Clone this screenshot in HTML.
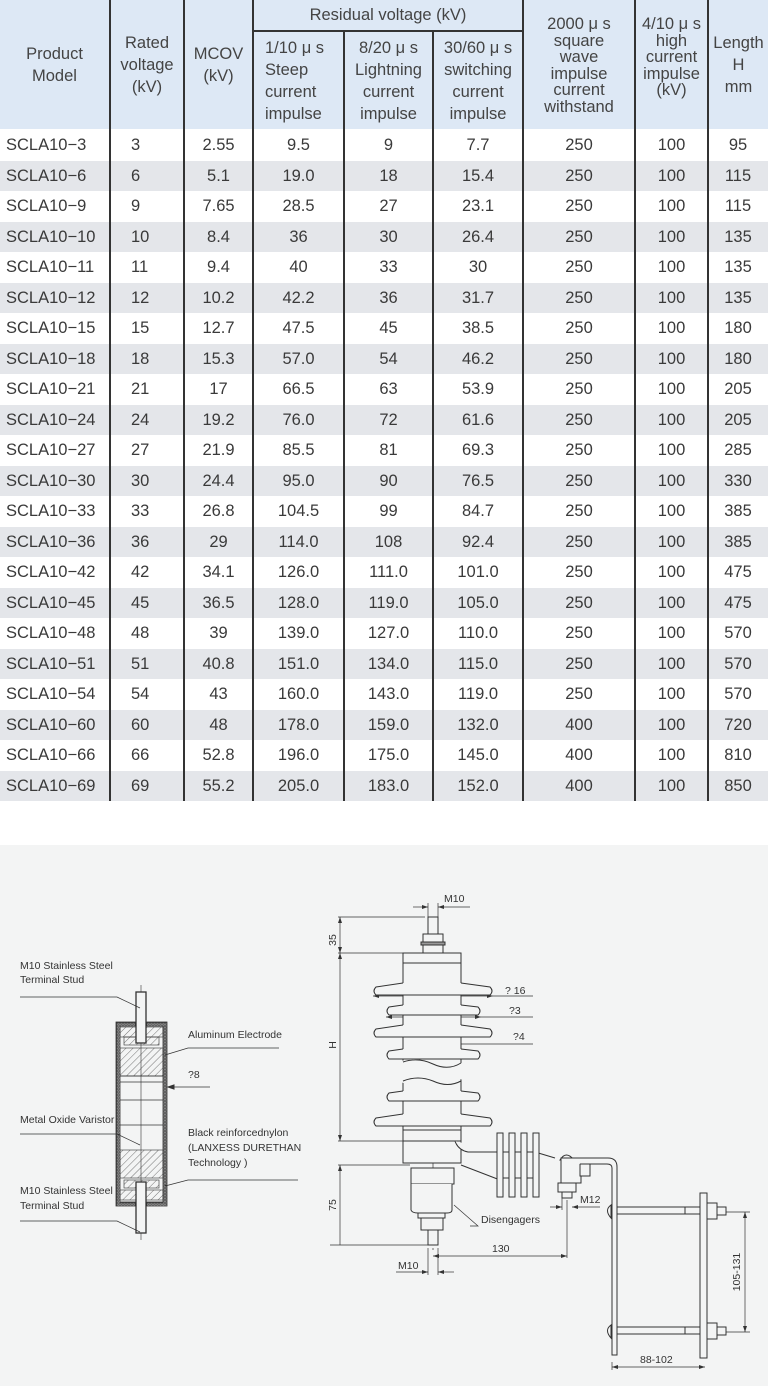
<!DOCTYPE html>
<html><head><meta charset="utf-8"><style>
*{margin:0;padding:0;box-sizing:border-box}
body{width:768px;height:1386px;background:#fff;font-family:"Liberation Sans",sans-serif;color:#333;position:relative;overflow:hidden}
.h{position:absolute;background:#dde8f5;font-size:16.5px;text-align:center;line-height:22px;display:flex;align-items:center;justify-content:center;color:#444}
.v{position:absolute;width:1.5px;background:#333;top:0;height:801px}
.g{position:absolute;left:0;width:768px;background:#e4e6ea}
td{color:#3a3a3a}
</style></head><body>
<div class="h" style="left:0;top:0;width:109px;height:129px">Product<br>Model</div>
<div class="h" style="left:111px;top:0;width:72px;height:129px">Rated<br>voltage<br>(kV)</div>
<div class="h" style="left:185px;top:0;width:67px;height:129px">MCOV<br>(kV)</div>
<div class="h" style="left:254px;top:0;width:268px;height:30px">Residual voltage (kV)</div>
<div style="position:absolute;left:253px;top:30px;width:270px;height:1.5px;background:#333"></div>
<div class="h" style="left:254px;top:32px;width:89px;height:97px;text-align:left;justify-content:flex-start;padding-left:11px">1/10 μ s<br>Steep<br>current<br>impulse</div>
<div class="h" style="left:345px;top:32px;width:87px;height:97px">8/20 μ s<br>Lightning<br>current<br>impulse</div>
<div class="h" style="left:434px;top:32px;width:88px;height:97px">30/60 μ s<br>switching<br>current<br>impulse</div>
<div class="h" style="left:524px;top:0;width:110px;height:129px;align-items:flex-start;padding-top:16px;line-height:16.5px">2000 μ s<br>square<br>wave<br>impulse<br>current<br>withstand</div>
<div class="h" style="left:636px;top:0;width:71px;height:129px;align-items:flex-start;padding-top:16px;line-height:16.5px">4/10 μ s<br>high<br>current<br>impulse<br>(kV)</div>
<div class="h" style="left:709px;top:0;width:59px;height:129px">Length<br>H<br>mm</div>
<div class="g" style="top:160.5px;height:30.5px"></div><div class="g" style="top:221.5px;height:30.5px"></div><div class="g" style="top:282.5px;height:30.5px"></div><div class="g" style="top:343.5px;height:30.5px"></div><div class="g" style="top:404.5px;height:30.5px"></div><div class="g" style="top:465.5px;height:30.5px"></div><div class="g" style="top:526.5px;height:30.5px"></div><div class="g" style="top:587.5px;height:30.5px"></div><div class="g" style="top:648.5px;height:30.5px"></div><div class="g" style="top:709.5px;height:30.5px"></div><div class="g" style="top:770.5px;height:30.5px"></div>
<div class="v" style="left:109px"></div><div class="v" style="left:183px"></div><div class="v" style="left:252px"></div><div class="v" style="left:343px;top:31px;height:770px"></div><div class="v" style="left:432px;top:31px;height:770px"></div><div class="v" style="left:522px"></div><div class="v" style="left:634px"></div><div class="v" style="left:707px"></div>
<div style="position:absolute;left:0;top:130px;width:768px;font-size:16.5px;line-height:30.5px">
<table style="border-collapse:collapse;width:768px;table-layout:fixed">
<colgroup><col style="width:110px"><col style="width:74px"><col style="width:69px"><col style="width:91px"><col style="width:89px"><col style="width:90px"><col style="width:112px"><col style="width:73px"><col style="width:60px"></colgroup>
<tbody style="text-align:center">
<tr><td style="text-align:left;padding-left:6px">SCLA10−3</td><td style="text-align:left;padding-left:21px">3</td><td>2.55</td><td>9.5</td><td>9</td><td>7.7</td><td>250</td><td>100</td><td>95</td></tr>
<tr><td style="text-align:left;padding-left:6px">SCLA10−6</td><td style="text-align:left;padding-left:21px">6</td><td>5.1</td><td>19.0</td><td>18</td><td>15.4</td><td>250</td><td>100</td><td>115</td></tr>
<tr><td style="text-align:left;padding-left:6px">SCLA10−9</td><td style="text-align:left;padding-left:21px">9</td><td>7.65</td><td>28.5</td><td>27</td><td>23.1</td><td>250</td><td>100</td><td>115</td></tr>
<tr><td style="text-align:left;padding-left:6px">SCLA10−10</td><td style="text-align:left;padding-left:21px">10</td><td>8.4</td><td>36</td><td>30</td><td>26.4</td><td>250</td><td>100</td><td>135</td></tr>
<tr><td style="text-align:left;padding-left:6px">SCLA10−11</td><td style="text-align:left;padding-left:21px">11</td><td>9.4</td><td>40</td><td>33</td><td>30</td><td>250</td><td>100</td><td>135</td></tr>
<tr><td style="text-align:left;padding-left:6px">SCLA10−12</td><td style="text-align:left;padding-left:21px">12</td><td>10.2</td><td>42.2</td><td>36</td><td>31.7</td><td>250</td><td>100</td><td>135</td></tr>
<tr><td style="text-align:left;padding-left:6px">SCLA10−15</td><td style="text-align:left;padding-left:21px">15</td><td>12.7</td><td>47.5</td><td>45</td><td>38.5</td><td>250</td><td>100</td><td>180</td></tr>
<tr><td style="text-align:left;padding-left:6px">SCLA10−18</td><td style="text-align:left;padding-left:21px">18</td><td>15.3</td><td>57.0</td><td>54</td><td>46.2</td><td>250</td><td>100</td><td>180</td></tr>
<tr><td style="text-align:left;padding-left:6px">SCLA10−21</td><td style="text-align:left;padding-left:21px">21</td><td>17</td><td>66.5</td><td>63</td><td>53.9</td><td>250</td><td>100</td><td>205</td></tr>
<tr><td style="text-align:left;padding-left:6px">SCLA10−24</td><td style="text-align:left;padding-left:21px">24</td><td>19.2</td><td>76.0</td><td>72</td><td>61.6</td><td>250</td><td>100</td><td>205</td></tr>
<tr><td style="text-align:left;padding-left:6px">SCLA10−27</td><td style="text-align:left;padding-left:21px">27</td><td>21.9</td><td>85.5</td><td>81</td><td>69.3</td><td>250</td><td>100</td><td>285</td></tr>
<tr><td style="text-align:left;padding-left:6px">SCLA10−30</td><td style="text-align:left;padding-left:21px">30</td><td>24.4</td><td>95.0</td><td>90</td><td>76.5</td><td>250</td><td>100</td><td>330</td></tr>
<tr><td style="text-align:left;padding-left:6px">SCLA10−33</td><td style="text-align:left;padding-left:21px">33</td><td>26.8</td><td>104.5</td><td>99</td><td>84.7</td><td>250</td><td>100</td><td>385</td></tr>
<tr><td style="text-align:left;padding-left:6px">SCLA10−36</td><td style="text-align:left;padding-left:21px">36</td><td>29</td><td>114.0</td><td>108</td><td>92.4</td><td>250</td><td>100</td><td>385</td></tr>
<tr><td style="text-align:left;padding-left:6px">SCLA10−42</td><td style="text-align:left;padding-left:21px">42</td><td>34.1</td><td>126.0</td><td>111.0</td><td>101.0</td><td>250</td><td>100</td><td>475</td></tr>
<tr><td style="text-align:left;padding-left:6px">SCLA10−45</td><td style="text-align:left;padding-left:21px">45</td><td>36.5</td><td>128.0</td><td>119.0</td><td>105.0</td><td>250</td><td>100</td><td>475</td></tr>
<tr><td style="text-align:left;padding-left:6px">SCLA10−48</td><td style="text-align:left;padding-left:21px">48</td><td>39</td><td>139.0</td><td>127.0</td><td>110.0</td><td>250</td><td>100</td><td>570</td></tr>
<tr><td style="text-align:left;padding-left:6px">SCLA10−51</td><td style="text-align:left;padding-left:21px">51</td><td>40.8</td><td>151.0</td><td>134.0</td><td>115.0</td><td>250</td><td>100</td><td>570</td></tr>
<tr><td style="text-align:left;padding-left:6px">SCLA10−54</td><td style="text-align:left;padding-left:21px">54</td><td>43</td><td>160.0</td><td>143.0</td><td>119.0</td><td>250</td><td>100</td><td>570</td></tr>
<tr><td style="text-align:left;padding-left:6px">SCLA10−60</td><td style="text-align:left;padding-left:21px">60</td><td>48</td><td>178.0</td><td>159.0</td><td>132.0</td><td>400</td><td>100</td><td>720</td></tr>
<tr><td style="text-align:left;padding-left:6px">SCLA10−66</td><td style="text-align:left;padding-left:21px">66</td><td>52.8</td><td>196.0</td><td>175.0</td><td>145.0</td><td>400</td><td>100</td><td>810</td></tr>
<tr><td style="text-align:left;padding-left:6px">SCLA10−69</td><td style="text-align:left;padding-left:21px">69</td><td>55.2</td><td>205.0</td><td>183.0</td><td>152.0</td><td>400</td><td>100</td><td>850</td></tr>
</tbody></table></div>

<svg style="position:absolute;left:0;top:845px" width="768" height="541" viewBox="0 845 768 541" font-family="Liberation Sans, sans-serif" font-size="11" fill="none" stroke="#333" stroke-width="1">
<defs><pattern id="hat" width="5" height="5" patternUnits="userSpaceOnUse" patternTransform="rotate(45)"><line x1="0" y1="0" x2="0" y2="5" stroke="#555" stroke-width="0.8"/></pattern>
<pattern id="dots" width="3" height="3" patternUnits="userSpaceOnUse"><rect width="3" height="3" fill="#f0f0f0"/><circle cx="1.5" cy="1.5" r="0.7" fill="#666" stroke="none"/></pattern></defs>
<rect x="0" y="845" width="768" height="541" fill="#f3f4f4" stroke="none"/>
<!-- left component -->
<rect x="116" y="1022" width="51" height="184" fill="url(#dots)" stroke-width="0.8"/>
<rect x="120" y="1026" width="43" height="176" fill="#f3f4f4" stroke-width="0.8"/>
<rect x="120" y="1027" width="43" height="10" fill="url(#hat)" stroke-width="0.6"/>
<rect x="124" y="1037" width="35" height="8" fill="url(#hat)" stroke-width="0.6"/>
<rect x="120" y="1048" width="43" height="28" fill="url(#hat)" stroke-width="0.6"/>
<g stroke-width="0.7"><line x1="120" y1="1076" x2="163" y2="1076"/><line x1="120" y1="1082" x2="163" y2="1082"/>
<line x1="120" y1="1100" x2="163" y2="1100"/><line x1="120" y1="1125" x2="163" y2="1125"/></g>
<rect x="120" y="1150" width="43" height="28" fill="url(#hat)" stroke-width="0.6"/>
<rect x="124" y="1180" width="35" height="8" fill="url(#hat)" stroke-width="0.6"/>
<rect x="120" y="1190" width="43" height="10" fill="url(#hat)" stroke-width="0.6"/>
<line x1="141" y1="985" x2="141" y2="1240" stroke-width="0.6"/>
<rect x="136" y="992" width="10" height="51" fill="#f3f4f4" stroke-width="1.3"/>
<rect x="136" y="1182" width="10" height="51" fill="#f3f4f4" stroke-width="1.3"/>
<g fill="#333" stroke="none" font-size="10.5">
<text x="20" y="969">M10 Stainless Steel</text><text x="20" y="983">Terminal Stud</text>
<text x="188" y="1038">Aluminum Electrode</text>
<text x="188" y="1078">?8</text>
<text x="20" y="1123">Metal Oxide Varistor</text>
<text x="188" y="1136">Black reinforcednylon</text><text x="188" y="1151">(LANXESS DURETHAN</text><text x="188" y="1166">Technology )</text>
<text x="20" y="1194">M10 Stainless Steel</text><text x="20" y="1209">Terminal Stud</text>
</g>
<polyline points="20,997 117,997 140,1008" stroke-width="0.7"/>
<polyline points="279,1048 188,1048 165,1055" stroke-width="0.7"/>
<line x1="210" y1="1087" x2="168" y2="1087" stroke-width="0.7"/><path d="M168,1087 l6,-2 v4z" fill="#333"/>
<polyline points="20,1134 117,1134 140,1145" stroke-width="0.7"/>
<polyline points="298,1180 188,1180 165,1186" stroke-width="0.7"/>
<polyline points="20,1221 117,1221 140,1232" stroke-width="0.7"/>
<!-- right: dims -->
<g stroke-width="0.7">
<line x1="338" y1="917" x2="425" y2="917"/><line x1="338" y1="953" x2="403" y2="953"/>
<line x1="340" y1="917" x2="340" y2="1141"/><line x1="338" y1="1141" x2="403" y2="1141"/>
<line x1="338" y1="1165" x2="410" y2="1165"/><line x1="340" y1="1165" x2="340" y2="1245"/>
<line x1="330" y1="1245" x2="428" y2="1245"/>
<line x1="428" y1="903" x2="428" y2="917"/><line x1="438" y1="903" x2="438" y2="917"/>
<line x1="413" y1="907" x2="428" y2="907"/><line x1="438" y1="907" x2="470" y2="907"/>
<line x1="373" y1="996" x2="533" y2="996"/><line x1="386" y1="1017" x2="533" y2="1017"/><line x1="406" y1="1044" x2="533" y2="1044"/>
<line x1="433" y1="960" x2="433" y2="1250" stroke-dasharray="10,3,2,3"/>
<line x1="433" y1="1256" x2="567" y2="1256"/><line x1="567" y1="1200" x2="567" y2="1258"/>
<line x1="428" y1="1248" x2="428" y2="1275"/><line x1="438" y1="1248" x2="438" y2="1275"/>
<line x1="396" y1="1272" x2="428" y2="1272"/><line x1="438" y1="1272" x2="454" y2="1272"/>
<line x1="550" y1="1207" x2="562" y2="1207"/><line x1="572" y1="1207" x2="600" y2="1207"/>
<line x1="562" y1="1195" x2="562" y2="1210"/>
<line x1="612" y1="1362" x2="612" y2="1370"/><line x1="612" y1="1367" x2="705" y2="1367"/>
<line x1="725" y1="1212" x2="750" y2="1212"/><line x1="725" y1="1332" x2="750" y2="1332"/><line x1="745" y1="1212" x2="745" y2="1332"/>
</g>
<g fill="#333" stroke="none">
<path d="M340,917 l-2,6 h4z M340,953 l-2,-6 h4z M340,953 l-2,6 h4z M340,1141 l-2,-6 h4z M340,1165 l-2,6 h4z"/>
<path d="M373,996 l6,-2 v4z M493,996 l-6,-2 v4z M386,1017 l6,-2 v4z M481,1017 l-6,-2 v4z M406,1044 l6,-2 v4z M460,1044 l-6,-2 v4z"/>
<path d="M433,1256 l6,-2 v4z M567,1256 l-6,-2 v4z M612,1367 l6,-2 v4z M705,1367 l-6,-2 v4z M745,1212 l-2,6 h4z M745,1332 l-2,-6 h4z"/>
<path d="M428,907 l-6,-2 v4z M438,907 l6,-2 v4z M428,1272 l-6,-2 v4z M438,1272 l6,-2 v4z M562,1207 l-6,-2 v4z M572,1207 l6,-2 v4z"/>
<text x="444" y="902" font-size="10.5">M10</text>
<text x="505" y="994" font-size="10.5">?  16</text><text x="509" y="1014" font-size="10.5">?3</text><text x="513" y="1040" font-size="10.5">?4</text>
<text x="336" y="940" font-size="10.5" transform="rotate(-90 336 940)" text-anchor="middle">35</text>
<text x="336" y="1045" font-size="10.5" transform="rotate(-90 336 1045)" text-anchor="middle">H</text>
<text x="336" y="1205" font-size="10.5" transform="rotate(-90 336 1205)" text-anchor="middle">75</text>
<text x="481" y="1223" font-size="10.5">Disengagers</text>
<text x="492" y="1252" font-size="10.5">130</text>
<text x="580" y="1203" font-size="10.5">M12</text>
<text x="398" y="1269" font-size="10.5">M10</text>
<text x="640" y="1363" font-size="10.5">88-102</text>
<text x="740" y="1272" font-size="10.5" transform="rotate(-90 740 1272)" text-anchor="middle">105-131</text>
</g>
<!-- arrester body -->
<g stroke-width="1" fill="#f3f4f4">
<rect x="428" y="917" width="10" height="20"/>
<rect x="423" y="934" width="20" height="8"/><rect x="421" y="942" width="24" height="3" fill="#999"/><rect x="423" y="945" width="20" height="8"/>
<rect x="403" y="953" width="58" height="10"/>
<rect x="403" y="963" width="58" height="178"/>
<path d="M403,983 L376,987 Q372,991 376,995 L490,995 Q494,991 490,987 L461,983"/>
<path d="M403,1005 L389,1007 Q385,1011 389,1015 L478,1015 Q482,1011 478,1007 L461,1005"/>
<path d="M403,1025 L376,1029 Q372,1033 376,1037 L490,1037 Q494,1033 490,1029 L461,1025"/>
<path d="M403,1049 L389,1051 Q385,1055 389,1059 L478,1059 Q482,1055 478,1051 L461,1049"/>
<path d="M401,1061 Q418,1056 433,1064 Q448,1072 463,1062 L463,1080 Q448,1074 433,1082 Q418,1090 401,1082Z" fill="#f3f4f4" stroke="none"/>
<path d="M403,1062 Q418,1057 433,1064 Q448,1071 461,1063 M403,1081 Q418,1075 433,1081 Q448,1088 461,1081"/>
<path d="M403,1091 L389,1093 Q385,1097 389,1101 L478,1101 Q482,1097 478,1093 L461,1091"/>
<path d="M403,1114 L376,1118 Q372,1122 376,1126 L490,1126 Q494,1122 490,1118 L461,1114"/>
<line x1="403" y1="1130" x2="461" y2="1130"/>
<path d="M403,1141 L403,1163 L461,1163 L461,1141 Z"/>
<path d="M455,1141 Q458,1150 468,1152 L497,1152 M461,1165 L500,1180 M535,1152 L555,1158"/>
<rect x="497" y="1133" width="6" height="64"/><rect x="509" y="1133" width="6" height="64"/><rect x="521" y="1133" width="6" height="64"/><rect x="533" y="1133" width="6" height="64"/>
<line x1="503" y1="1152" x2="509" y2="1152"/><line x1="515" y1="1152" x2="521" y2="1152"/><line x1="527" y1="1152" x2="533" y2="1152"/>
<line x1="503" y1="1178" x2="509" y2="1178"/><line x1="515" y1="1178" x2="521" y2="1178"/><line x1="527" y1="1178" x2="533" y2="1178"/>
<rect x="411" y="1168" width="43" height="16"/>
<path d="M411,1184 L411,1210 Q412,1213 418,1213 L447,1213 Q452,1213 452,1210 L452,1184"/>
<rect x="418" y="1213" width="27" height="5"/><rect x="421" y="1218" width="22" height="12"/>
<rect x="428" y="1230" width="10" height="15"/>
<path d="M454,1205 L478,1226 L470,1226" stroke-width="0.7" fill="none"/>
<path d="M560,1160 Q566,1150 574,1160 Z"/>
<rect x="561" y="1158" width="20" height="25"/><rect x="580" y="1162" width="10" height="14"/>
<rect x="558" y="1183" width="18" height="9"/><rect x="562" y="1192" width="10" height="6"/>
<path d="M570,1158 L608,1158 Q617,1158 617,1167 L617,1355 L612,1355 L612,1168 Q612,1164 607,1164 L580,1164"/>
<rect x="700" y="1193" width="7" height="165"/>
<path d="M611,1205 Q604,1210 611,1218 Z M611,1325 Q604,1330 611,1338 Z"/>
<rect x="617" y="1207" width="83" height="7"/><rect x="617" y="1327" width="83" height="7"/>
<rect x="685" y="1207" width="15" height="7"/><rect x="685" y="1327" width="15" height="7"/>
<rect x="707" y="1203" width="10" height="16"/><rect x="707" y="1323" width="10" height="16"/>
<rect x="717" y="1207" width="9" height="8"/><rect x="717" y="1327" width="9" height="8"/>
</g>
</svg>
</body></html>
